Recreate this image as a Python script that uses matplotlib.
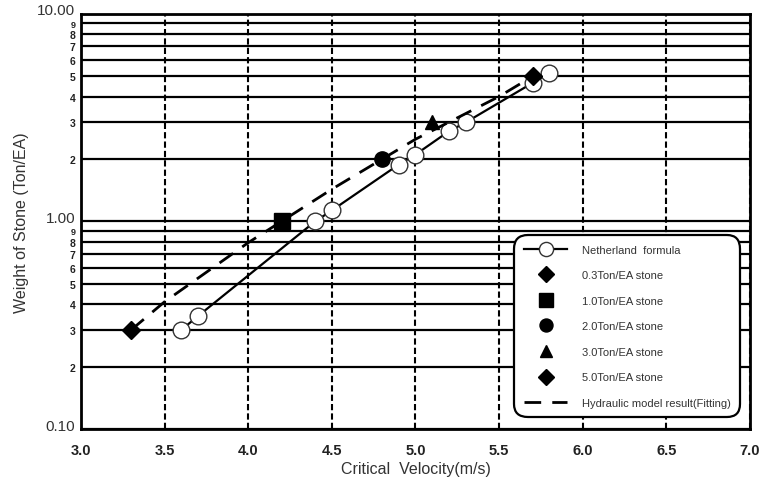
import matplotlib.pyplot as plt
from matplotlib.transforms import offset_copy

plt.rcParams['font.family'] = ['Liberation Sans', 'DejaVu Sans']

# Netherland formula points
neth_v = [3.6, 3.7, 4.4, 4.5, 4.9, 5.0, 5.2, 5.3, 5.7, 5.8]
neth_w = [0.30, 0.35, 1.0, 1.13, 1.88, 2.1, 2.72, 3.0, 4.65, 5.2]

# hydraulic model stones
stone_labels = ['0.3Ton/EA stone', '1.0Ton/EA stone', '2.0Ton/EA stone',
                '3.0Ton/EA stone', '5.0Ton/EA stone']
stone_v = [3.3, 4.2, 4.8, 5.1, 5.7]
stone_w = [0.3, 1.0, 2.0, 3.0, 5.0]
stone_markers = ['D', 's', 'o', '^', 'D']
stone_sizes = [9, 12, 11, 10, 9]

# fitted curve
fit_v = [3.3, 3.5, 4.0, 4.5, 5.0, 5.5, 5.7]
fit_w = [0.3, 0.41, 0.79, 1.43, 2.49, 4.0, 5.0]

fig = plt.figure(figsize=(7.63, 4.81), dpi=100)
ax = fig.add_axes([0.106, 0.106, 0.877, 0.863])

ax.set_yscale('log')
ax.set_xlim(3.0, 7.0)
ax.set_ylim(0.1, 10)

# grid: solid horizontal at every minor, dashed vertical
ax.grid(True, which='both', axis='y', color='black', lw=1.6, ls='-')
ax.set_xticks([3.0, 3.5, 4.0, 4.5, 5.0, 5.5, 6.0, 6.5, 7.0])
ax.grid(True, which='major', axis='x', color='black', lw=1.5, ls=(0, (3, 1.5)))
ax.set_axisbelow(True)

ax.plot(neth_v, neth_w, color='black', lw=1.6, marker='o', ms=12,
        mfc='white', mec='#333333', mew=1.0, label='Netherland  formula', zorder=3)
for lab, v, w, m, s in zip(stone_labels, stone_v, stone_w, stone_markers, stone_sizes):
    ax.plot([v], [w], ls='none', marker=m, ms=s, color='black', label=lab, zorder=4)
ax.plot(fit_v, fit_w, color='black', lw=2.0, ls=(0, (6, 4)),
        label='Hydraulic model result(Fitting)', zorder=3)

# y ticks
ax.set_yticks([0.1, 1, 10])
ax.set_yticklabels(['0.10', '1.00', '10.00'], fontsize=11, color='#333333')
minor = [k * 0.1 for k in range(2, 10)] + list(range(2, 10))
ax.set_yticks(minor, minor=True)
ax.set_yticklabels([str(k) for k in range(2, 10)] * 2, minor=True,
                   fontsize=7.5, fontweight='bold', color='#222222')
ax.tick_params(axis='y', which='both', length=0, pad=4)
# nudge the decade labels up a touch so the "9" labels don't collide
for t in ax.get_yticklabels():
    t.set_transform(offset_copy(t.get_transform(), fig=fig, x=0, y=5, units='dots'))
for t in ax.get_yticklabels(minor=True):
    if t.get_text() == '9':
        t.set_fontsize(6.5)
ax.set_xticklabels(['3.0', '3.5', '4.0', '4.5', '5.0', '5.5', '6.0', '6.5', '7.0'],
                   fontsize=10.5, fontweight='bold', color='#222222')
ax.tick_params(axis='x', length=0, pad=10)

for sp in ax.spines.values():
    sp.set_linewidth(2.0)

ax.set_xlabel('Critical  Velocity(m/s)', fontsize=11.5, color='#333333', labelpad=3)
ax.set_ylabel('Weight of Stone (Ton/EA)', fontsize=11.5, color='#333333', labelpad=6)

leg = ax.legend(loc='lower right', bbox_to_anchor=(0.985, 0.028), fontsize=8,
                frameon=True, fancybox=True, framealpha=1, edgecolor='black',
                handlelength=3.9, labelspacing=1.4, borderpad=0.85,
                handletextpad=1.3, markerscale=0.85, borderaxespad=0)
leg.get_frame().set_linewidth(1.6)
leg.get_frame().set_boxstyle('round', pad=0, rounding_size=1.2)
for t in leg.get_texts():
    t.set_color('#333333')

fig.savefig('out.png', dpi=100)
